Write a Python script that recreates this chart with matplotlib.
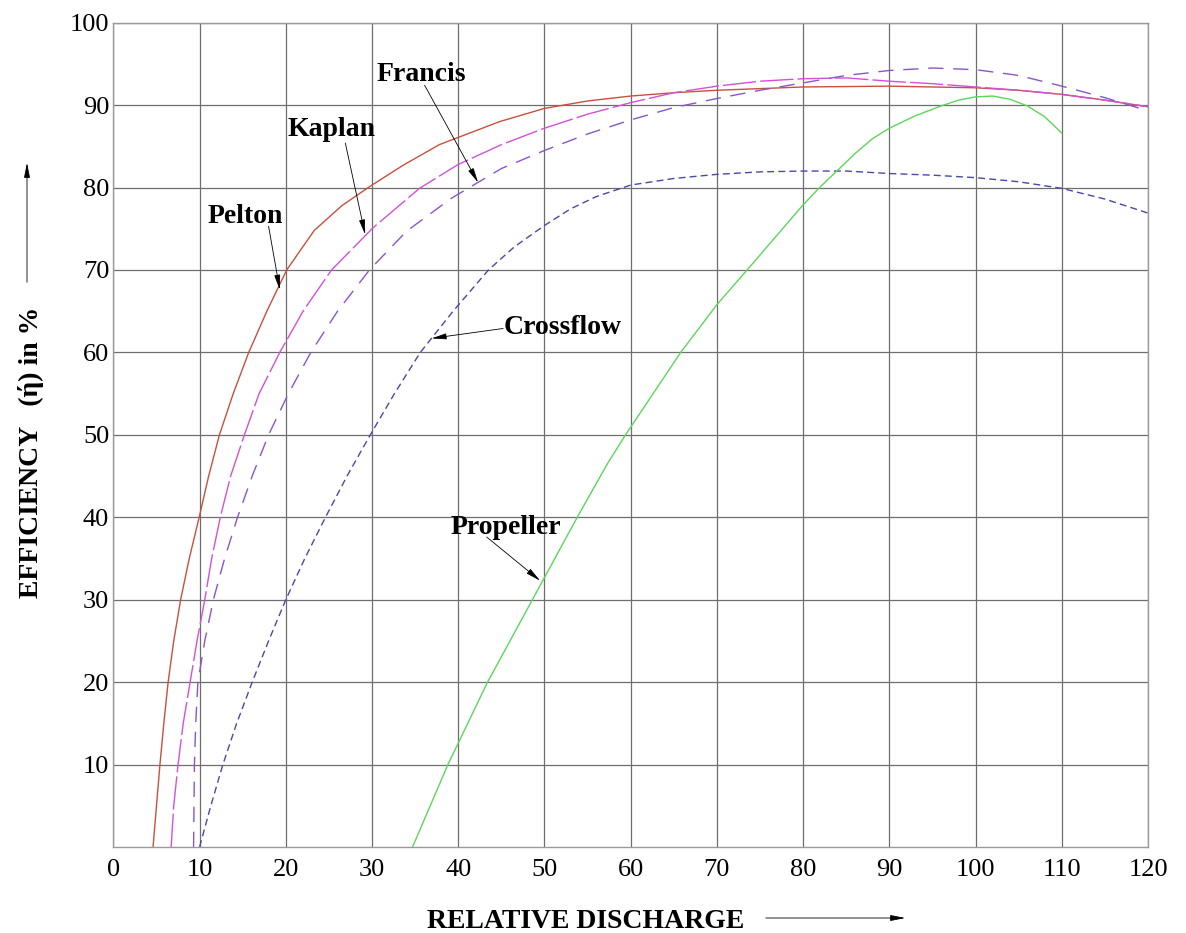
import matplotlib
matplotlib.use("Agg")
import matplotlib.pyplot as plt
from matplotlib.patches import FancyArrowPatch

plt.rcParams['font.family'] = ['Liberation Serif', 'DejaVu Serif']

# relative discharge (%) / efficiency (%)
pelton_x = [4.6, 5.0, 5.4, 5.85, 6.35, 7.0, 7.8, 8.8, 9.95, 11.05, 12.3, 13.9, 15.7, 17.8, 20.1, 23.3, 26.5,
            29.7, 33.6, 37.8, 44.8, 50, 55, 60, 65, 70, 80, 90, 100, 105, 110, 115, 120]
pelton_y = [0, 5, 10, 15, 20, 25, 30, 35, 40, 45, 50, 55, 60, 65, 70, 74.8, 77.8,
            80.1, 82.7, 85.2, 88, 89.6, 90.5, 91.1, 91.5, 91.8, 92.2, 92.3, 92.1, 91.8, 91.3, 90.6, 89.8]

kaplan_x = [6.7, 7.0, 7.5, 8.1, 8.9, 9.7, 10.6, 11.4, 12.4, 13.6, 15.2, 16.9, 19.3, 22, 25.3, 30.1, 35.5,
            40, 45, 50, 55, 60, 65, 70, 75, 80, 85, 90, 95, 100, 105, 110, 115, 120]
kaplan_y = [0, 5, 10, 15, 20, 25, 30, 35, 40, 45, 50, 55, 60, 65, 70, 75.1, 79.9,
            82.8, 85.2, 87.2, 88.9, 90.3, 91.5, 92.3, 92.9, 93.2, 93.3, 92.9, 92.6, 92.2, 91.8, 91.3, 90.6, 89.8]

francis_x = [9.3, 9.35, 9.4, 9.55, 9.8, 10.6, 11.6, 12.9, 14.4, 16.1, 18.0, 20.3, 22.9, 26, 29.7, 34, 39.2,
             45, 50, 55, 60, 65, 70, 75, 80, 85, 90, 95, 100, 105, 110, 115, 120]
francis_y = [0, 5, 10, 15, 20, 25, 30, 35, 40, 45, 50, 55, 60, 65, 70, 74.7, 78.7,
             82.3, 84.5, 86.5, 88.2, 89.7, 90.8, 91.8, 92.7, 93.6, 94.2, 94.5, 94.3, 93.6, 92.3, 90.9, 89.3]

crossflow_x = [10, 11.3, 12.7, 14.3, 16.1, 18.0, 20, 22.2, 24.6, 27.1, 29.8, 32.6, 35.6, 39.4, 43.5,
               46.5, 50, 53, 56, 60, 65, 70, 75, 80, 85, 90, 95, 100, 105, 110, 115, 120]
crossflow_y = [0, 5, 10, 15, 20, 25, 30, 35, 40, 45, 50, 55, 60, 65, 70,
               72.8, 75.4, 77.4, 78.9, 80.3, 81.1, 81.6, 81.9, 82, 82, 81.7, 81.5, 81.2, 80.7, 79.9, 78.6, 76.9]

propeller_x = [34.7, 38.8, 43.4, 48.6, 53.8, 57.3, 59.4, 65.8, 70, 73.5, 80, 81.9, 84, 86, 88, 90, 93,
               96, 98, 100, 102, 104, 106, 108, 110]
propeller_y = [0, 10, 20, 30, 40, 46.5, 50, 60, 65.8, 70, 77.9, 80, 82.1, 84.1, 85.9, 87.2, 88.7,
               89.9, 90.6, 91, 91.1, 90.7, 89.9, 88.6, 86.6]

x_ticks = list(range(0, 121, 10))
y_ticks = list(range(10, 101, 10))

fig = plt.figure(figsize=(11.86, 9.33), dpi=100)
ax = fig.add_axes([0.0956, 0.0922, 0.8724, 0.8835])

ax.plot(pelton_x, pelton_y, color='#c8503c', lw=1.0)
ax.plot(kaplan_x, kaplan_y, color='#d450d8', lw=1.0, dashes=(24, 3))
ax.plot(francis_x, francis_y, color='#8a55cc', lw=1.0, dashes=(11, 7))
ax.plot(crossflow_x, crossflow_y, color='#4848a8', lw=1.0, dashes=(5, 3))
ax.plot(propeller_x, propeller_y, color='#5cd65c', lw=1.0)

ax.set_xlim(0, 120)
ax.set_ylim(0, 100)
ax.set_xticks(x_ticks)
ax.set_yticks(y_ticks)
ax.tick_params(length=0, labelsize=19)
ax.tick_params(axis='x', pad=9)
ax.tick_params(axis='y', pad=3)
ax.grid(True, color='#6e6e6e', lw=0.9)
for s in ax.spines.values():
    s.set_color('#9a9a9a')
    s.set_linewidth(1.0)

arrow = dict(arrowstyle='-|>,head_length=0.9,head_width=0.18', lw=0.6, color='black',
             shrinkA=0, shrinkB=0)
labels = [
    ("Francis", (35.7, 93.75), (36.1, 92.4), (42.3, 80.6)),
    ("Kaplan", (25.3, 87.0), (26.9, 85.4), (29.2, 74.3)),
    ("Pelton", (15.3, 76.5), (18.0, 75.3), (19.3, 67.6)),
    ("Crossflow", (52.1, 63.05), (45.2, 62.9), (36.9, 61.7)),
    ("Propeller", (45.5, 38.7), (43.3, 37.6), (49.5, 32.3)),
]
for name, txt, tail, tip in labels:
    ax.text(txt[0], txt[1], name, fontsize=20, fontweight='bold', ha='center', va='center')
    ax.annotate('', xy=tip, xytext=tail, arrowprops=arrow)

fig.text(0.494, 1 - 921 / 933, "RELATIVE DISCHARGE", fontsize=20, fontweight='bold', ha='center', va='center')
fig.text(0.026, 0.515, "EFFICIENCY   (ή) in %", fontsize=20, fontweight='bold',
         rotation=90, ha='center', va='center')
fig.add_artist(FancyArrowPatch((763 / 1186, 1 - 918 / 933), (908 / 1186, 1 - 918 / 933),
               transform=fig.transFigure, arrowstyle='-|>,head_length=0.9,head_width=0.18',
               lw=0.6, color='black', mutation_scale=10))
fig.add_artist(FancyArrowPatch((27 / 1186, 1 - 285 / 933), (27 / 1186, 1 - 160 / 933),
               transform=fig.transFigure, arrowstyle='-|>,head_length=0.9,head_width=0.18',
               lw=0.6, color='black', mutation_scale=10))

fig.savefig("out.png", dpi=100)
